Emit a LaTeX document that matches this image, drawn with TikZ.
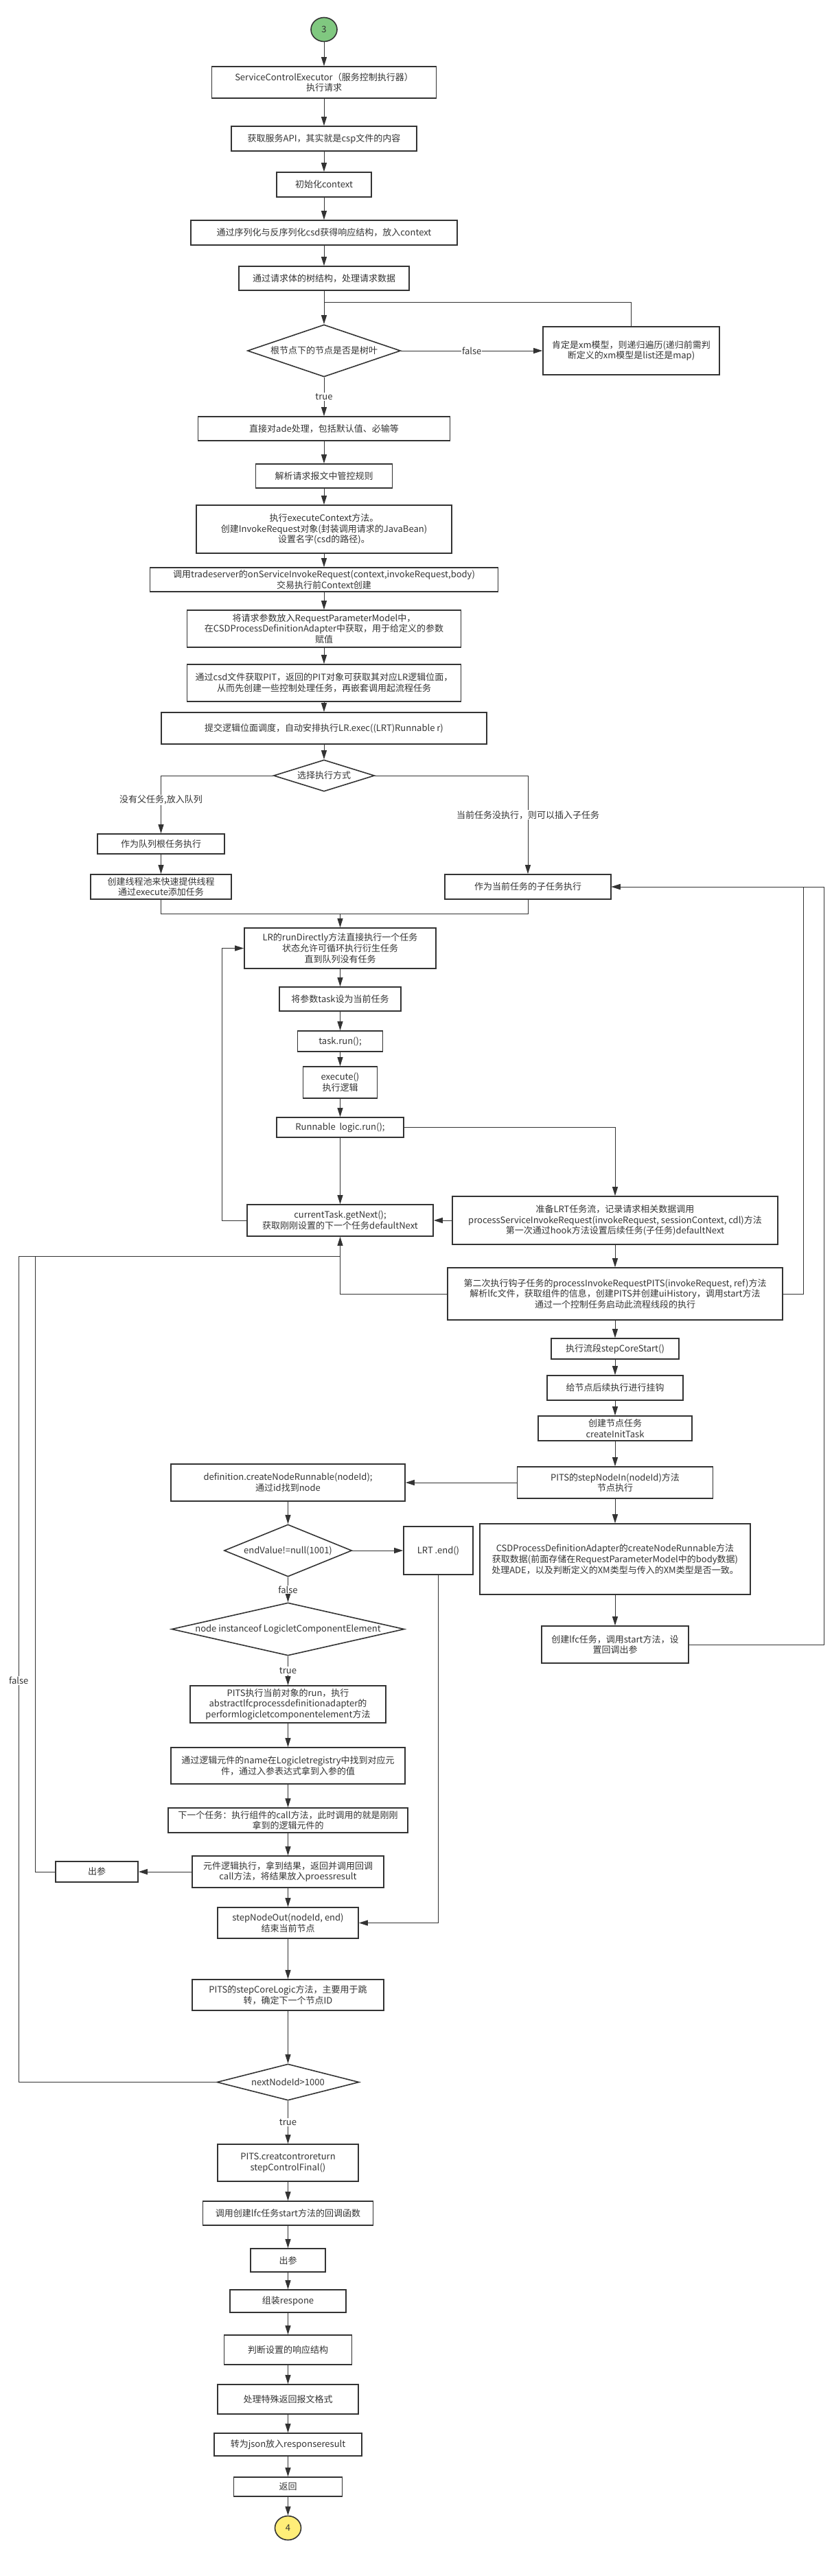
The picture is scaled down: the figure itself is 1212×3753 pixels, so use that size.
\documentclass[tikz,border=0pt]{standalone}
\usepackage{fontspec}
\setmainfont{Noto Sans CJK SC}
\usetikzlibrary{shapes.geometric,arrows.meta}
\definecolor{ink}{HTML}{333333}
\definecolor{startgreen}{RGB}{128,200,128}
\definecolor{endyellow}{RGB}{255,238,120}

\begin{document}
\begin{tikzpicture}[x=1pt,y=-1pt]
\tikzset{
        every node/.style={font=\fontsize{13}{15.7}\selectfont, text=ink},
        blk/.style={draw=ink, line width=1.6pt, align=center, inner sep=2pt},
        sz/.style 2 args={minimum width=#1pt, minimum height=#2pt},
        chk/.style={diamond, draw=ink, line width=1.6pt, align=center, inner sep=0pt},
        ball/.style={ellipse, draw=ink, line width=1.6pt, inner sep=0pt, minimum width=38pt, minimum height=35pt},
        lbl/.style={fill=white, inner sep=1pt},
        ln/.style={draw=ink, line width=1pt},
        arr/.style={ln, -{Triangle[length=13pt,width=8pt]}}
}
        \useasboundingbox (0,0) rectangle (1212,3753);

        \node[ball, fill=startgreen] (start) at (472,43) {3};
        \node[blk, sz={327}{46}] (exec) at (472,120) {ServiceControlExecutor（服务控制执行器）\\执行请求};
        \node[blk, sz={270}{36}] (api) at (472,202) {获取服务API，其实就是csp文件的内容};
        \node[blk, sz={138}{36}] (initctx) at (472,269) {初始化context};
        \node[blk, sz={388}{36}] (serial) at (472,339) {通过序列化与反序列化csd获得响应结构，放入context};
        \node[blk, sz={248}{35}] (tree) at (472,405.5) {通过请求体的树结构，处理请求数据};
        \node[chk, sz={223}{76}, aspect=2.93] (leaf) at (472,511) {根节点下的节点是否是树叶};
        \node[blk, sz={257}{70}] (xmrec) at (919.5,511) {肯定是xm模型，则递归遍历(递归前需判\\断定义的xm模型是list还是map)};
        \node[blk, sz={367}{35}] (ade) at (472,624.5) {直接对ade处理，包括默认值、必输等};
        \node[blk, sz={199}{35}] (rule) at (472,693.5) {解析请求报文中管控规则};
        \node[blk, sz={372}{70}] (ectx) at (472,771) {执行executeContext方法。\\创建InvokeRequest对象(封装调用请求的JavaBean)\\设置名字(csd的路径)。};
        \node[blk, sz={507}{35}] (trade) at (472,844.5) {调用tradeserver的onServiceInvokeRequest(context,invokeRequest,body)\\交易执行前Context创建};
        \node[blk, sz={399}{54}] (param) at (472,916) {将请求参数放入RequestParameterModel中，\\在CSDProcessDefinitionAdapter中获取，用于给定义的参数\\赋值};
        \node[blk, sz={399}{54}] (pit) at (472,995) {通过csd文件获取PIT，返回的PIT对象可获取其对应LR逻辑位面，\\从而先创建一些控制处理任务，再嵌套调用起流程任务};
        \node[blk, sz={474}{46}] (submit) at (472,1061) {提交逻辑位面调度，自动安排执行LR.exec((LRT)Runnable r)};
        \node[chk, sz={147}{46}, aspect=3.2] (mode) at (472,1130) {选择执行方式};
        \node[blk, sz={185}{29}] (qroot) at (234.5,1229.5) {作为队列根任务执行};
        \node[blk, sz={205}{36}] (pool) at (234.5,1292) {创建线程池来快速提供线程\\通过execute添加任务};
        \node[blk, sz={242}{36}] (child) at (769,1292) {作为当前任务的子任务执行};
        \coordinate (mergeB) at (495.5,1331);
        \node[blk, sz={279}{59}] (rundir) at (495.5,1381.5) {LR的runDirectly方法直接执行一个任务\\状态允许可循环执行衍生任务\\直到队列没有任务};
        \node[blk, sz={177}{35}] (settask) at (495.5,1455.5) {将参数task设为当前任务};
        \node[blk, sz={124}{30}] (taskrun) at (495.5,1517) {task.run();};
        \node[blk, sz={108}{46}] (execlog) at (495.5,1577) {execute()\\执行逻辑};
        \node[blk, sz={185}{29}] (logicrun) at (495.5,1642.5) {Runnable\ \ logic.run();};
        \node[blk, sz={271}{46}] (getnext) at (495.5,1778) {currentTask.getNext();\\获取刚刚设置的下一个任务defaultNext};
        \node[blk, sz={474}{70}] (prep) at (896,1778) {准备LRT任务流，记录请求相关数据调用\\processServiceInvokeRequest(invokeRequest, sessionContext, cdl)方法\\第一次通过hook方法设置后续任务(子任务)defaultNext};
        \coordinate (mergeC) at (495.5,1830);
        \node[blk, sz={488}{76}] (second) at (896,1885) {第二次执行钩子任务的processInvokeRequestPITS(invokeRequest, ref)方法\\解析lfc文件，获取组件的信息，创建PITS并创建uiHistory，调用start方法\\通过一个控制任务启动此流程线段的执行};
        \node[blk, sz={186}{30}] (corestart) at (896,1965) {执行流段stepCoreStart()};
        \node[blk, sz={198}{36}] (hook) at (896,2022) {给节点后续执行进行挂钩};
        \node[blk, sz={224}{36}] (inittask) at (896,2081) {创建节点任务\\createInitTask};
        \node[blk, sz={285}{46}] (nodein) at (896,2160) {PITS的stepNodeIn(nodeId)方法\\节点执行};
        \node[blk, sz={341}{54}] (noderun) at (419.5,2160) {definition.createNodeRunnable(nodeId);\\通过id找到node};
        \node[blk, sz={394}{103}] (adapter) at (896,2271.5) {CSDProcessDefinitionAdapter的createNodeRunnable方法\\获取数据(前面存储在RequestParameterModel中的body数据)\\处理ADE，以及判断定义的XM类型与传入的XM类型是否一致。};
        \node[blk, sz={214}{54}] (lfc) at (896,2396) {创建lfc任务，调用start方法，设\\置回调出参};
        \node[chk, sz={186}{76}, aspect=2.45] (endchk) at (419.5,2259) {endValue!=null(1001)};
        \node[blk, sz={101}{70}] (lrtend) at (638.5,2259) {LRT .end()};
        \node[chk, sz={339}{77}, aspect=4.4] (inst) at (419.5,2373.5) {node instanceof LogicletComponentElement};
        \node[blk, sz={285}{54}] (pitsrun) at (419.5,2483) {PITS执行当前对象的run，执行\\abstractlfcprocessdefinitionadapter的\\performlogicletcomponentelement方法};
        \node[blk, sz={341}{53}] (lookup) at (419.5,2572.5) {通过逻辑元件的name在Logicletregistry中找到对应元\\件，通过入参表达式拿到入参的值};
        \node[blk, sz={349}{36}] (callnext) at (419.5,2652) {下一个任务：执行组件的call方法，此时调用的就是刚刚\\拿到的逻辑元件的};
        \node[blk, sz={279}{46}] (result) at (419.5,2727) {元件逻辑执行，拿到结果，返回并调用回调\\call方法，将结果放入proessresult};
        \node[blk, sz={120}{30}] (outleft) at (141,2727) {出参};
        \node[blk, sz={205}{45}] (nodeout) at (419.5,2801.5) {stepNodeOut(nodeId, end)\\结束当前节点};
        \node[blk, sz={279}{45}] (corelogic) at (419.5,2906.5) {PITS的stepCoreLogic方法，主要用于跳\\转，确定下一个节点ID};
        \node[chk, sz={207}{53}, aspect=3.9] (nextchk) at (419.5,3033.5) {nextNodeId>1000};
        \node[blk, sz={205}{54}] (finalctl) at (419.5,3151) {PITS.creatcontroreturn\\stepControlFinal()};
        \node[blk, sz={248}{35}] (callback) at (419.5,3224.5) {调用创建lfc任务start方法的回调函数};
        \node[blk, sz={109}{34}] (outp) at (419.5,3293) {出参};
        \node[blk, sz={169}{33}] (resp) at (419.5,3352.5) {组装respone};
        \node[blk, sz={186}{43}] (judge) at (419.5,3423.5) {判断设置的响应结构};
        \node[blk, sz={205}{43}] (special) at (419.5,3495.5) {处理特殊返回报文格式};
        \node[blk, sz={215}{33}] (json) at (419.5,3561.5) {转为json放入responseresult};
        \node[blk, sz={158}{28}] (ret) at (419.5,3623) {返回};
        \node[ball, fill=endyellow] (stop) at (419.5,3683) {4};

        \coordinate (mergeA) at (472,440);
        \draw[arr] (start) -- (exec);
        \draw[arr] (exec) -- (api);
        \draw[arr] (api) -- (initctx);
        \draw[arr] (initctx) -- (serial);
        \draw[arr] (serial) -- (tree);
        \draw[arr] (tree) -- (leaf);
        \draw[ln] (xmrec.north) |- (mergeA);
        \draw[arr] (leaf) -- node[lbl] {false} (xmrec);
        \draw[arr] (leaf) -- node[lbl] {true} (ade);
        \draw[arr] (ade) -- (rule);
        \draw[arr] (rule) -- (ectx);
        \draw[arr] (ectx) -- (trade);
        \draw[arr] (trade) -- (param);
        \draw[arr] (param) -- (pit);
        \draw[arr] (pit) -- (submit);
        \draw[arr] (submit) -- (mode);
        \draw[arr] (mode.west) -| node[lbl, pos=0.71] {没有父任务,放入队列} (qroot.north);
        \draw[arr] (mode.east) -| node[lbl, pos=0.70] {当前任务没执行，则可以插入子任务} (child.north);
        \draw[arr] (qroot) -- (pool);
        \draw[ln] (pool.south) |- (mergeB) -| (child.south);
        \draw[arr] (mergeB) -- (rundir);
        \draw[arr] (rundir) -- (settask);
        \draw[arr] (settask) -- (taskrun);
        \draw[arr] (taskrun) -- (execlog);
        \draw[arr] (execlog) -- (logicrun);
        \draw[arr] (logicrun) -- (getnext);
        \draw[arr] (logicrun.east) -| (prep.north);
        \draw[arr] (prep) -- (getnext);
        \draw[arr] (getnext.west) -- ++(-36,0) |- (rundir.west);
        \draw[arr] (prep) -- (second);
        \draw[arr] (second.west) -| (getnext.south);
        \draw[arr] (second.east) -- ++(30,0) |- (child.east);
        \draw[arr] (second) -- (corestart);
        \draw[arr] (corestart) -- (hook);
        \draw[arr] (hook) -- (inittask);
        \draw[arr] (inittask) -- (nodein);
        \draw[arr] (nodein) -- (noderun);
        \draw[arr] (nodein) -- (adapter);
        \draw[arr] (adapter) -- (lfc);
        \draw[arr] (lfc.east) -- ++(197,0) |- (child.east);
        \draw[arr] (noderun) -- (endchk);
        \draw[arr] (endchk) -- (lrtend);
        \draw[arr] (endchk) -- node[lbl] {false} (inst);
        \draw[arr] (inst) -- node[lbl] {true} (pitsrun);
        \draw[arr] (pitsrun) -- (lookup);
        \draw[arr] (lookup) -- (callnext);
        \draw[arr] (callnext) -- (result);
        \draw[arr] (result) -- (outleft);
        \draw[ln] (outleft.west) -- ++(-29,0) |- (mergeC);
        \draw[arr] (result) -- (nodeout);
        \draw[arr] (lrtend.south) |- (nodeout.east);
        \draw[arr] (nodeout) -- (corelogic);
        \draw[arr] (corelogic) -- (nextchk);
        \draw[ln] (nextchk.west) -- ++(-288,0) |- node[lbl, pos=0.243] {false} (mergeC);
        \draw[arr] (nextchk) -- node[lbl] {true} (finalctl);
        \draw[arr] (finalctl) -- (callback);
        \draw[arr] (callback) -- (outp);
        \draw[arr] (outp) -- (resp);
        \draw[arr] (resp) -- (judge);
        \draw[arr] (judge) -- (special);
        \draw[arr] (special) -- (json);
        \draw[arr] (json) -- (ret);
        \draw[arr] (ret) -- (stop);
\end{tikzpicture}
\end{document}
